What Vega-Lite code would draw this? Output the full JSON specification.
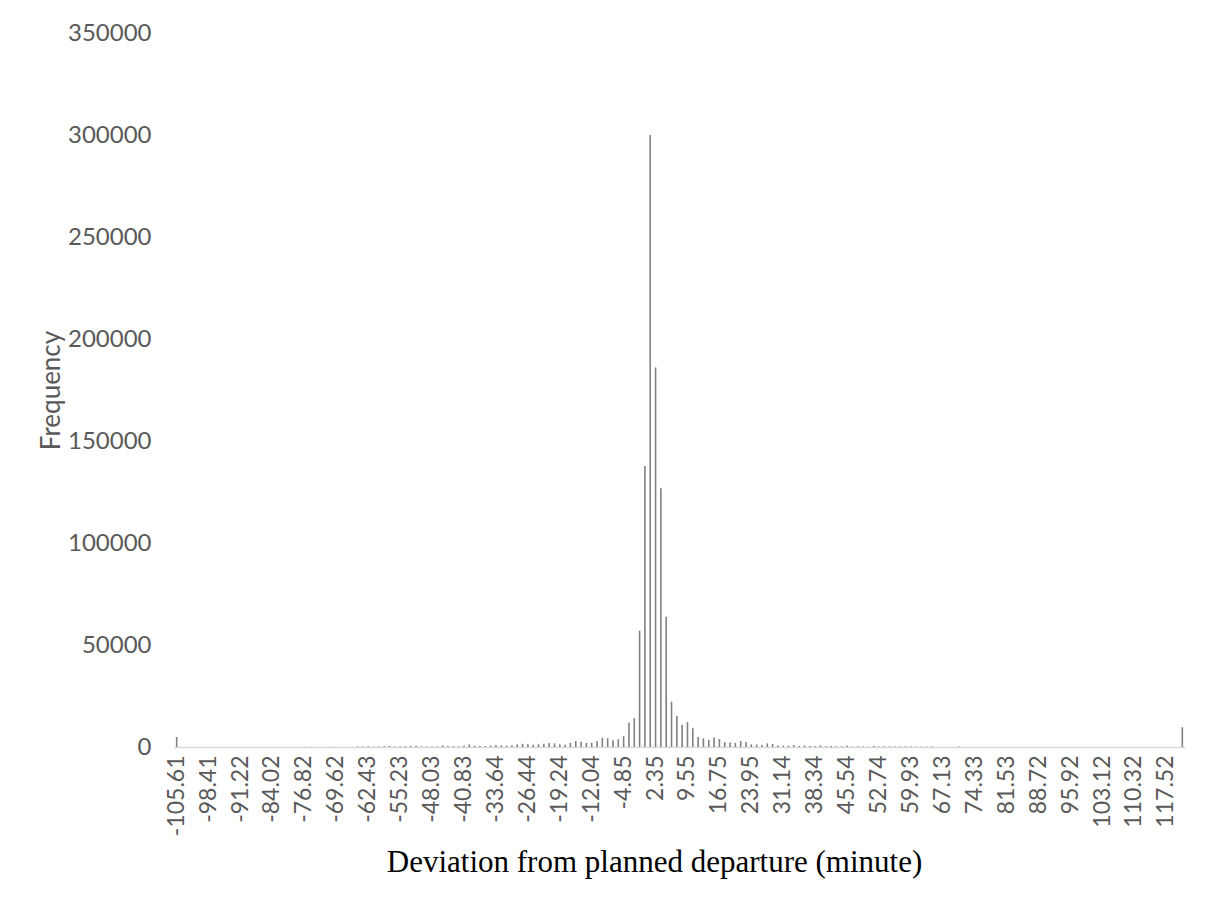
{
  "$schema": "https://vega.github.io/schema/vega-lite/v6.json",
  "width": 1011,
  "height": 714,
  "autosize": "none",
  "padding": {"left": 174, "top": 33, "right": 34, "bottom": 163},
  "background": "white",
  "config": {"view": {"stroke": null}},
  "data": {"values": [
    {"x": -105.61, "n": 4900}, {"x": -104.41, "n": 0}, {"x": -103.21, "n": 0}, {"x": -102.01, "n": 0}, {"x": -100.81, "n": 0}, {"x": -99.61, "n": 0},
    {"x": -98.41, "n": 0}, {"x": -97.21, "n": 0}, {"x": -96.01, "n": 0}, {"x": -94.81, "n": 0}, {"x": -93.61, "n": 0}, {"x": -92.41, "n": 0},
    {"x": -91.22, "n": 0}, {"x": -90.02, "n": 0}, {"x": -88.82, "n": 0}, {"x": -87.62, "n": 0}, {"x": -86.42, "n": 0}, {"x": -85.22, "n": 0},
    {"x": -84.02, "n": 0}, {"x": -82.82, "n": 0}, {"x": -81.62, "n": 0}, {"x": -80.42, "n": 0}, {"x": -79.22, "n": 0}, {"x": -78.02, "n": 0},
    {"x": -76.82, "n": 150}, {"x": -75.62, "n": 0}, {"x": -74.42, "n": 0}, {"x": -73.22, "n": 0}, {"x": -72.02, "n": 0}, {"x": -70.82, "n": 150},
    {"x": -69.62, "n": 0}, {"x": -68.42, "n": 0}, {"x": -67.22, "n": 0}, {"x": -66.02, "n": 0}, {"x": -64.82, "n": 300}, {"x": -63.62, "n": 300},
    {"x": -62.43, "n": 400}, {"x": -61.23, "n": 200}, {"x": -60.03, "n": 300}, {"x": -58.83, "n": 500}, {"x": -57.63, "n": 500}, {"x": -56.43, "n": 300},
    {"x": -55.23, "n": 400}, {"x": -54.03, "n": 400}, {"x": -52.83, "n": 500}, {"x": -51.63, "n": 600}, {"x": -50.43, "n": 300}, {"x": -49.23, "n": 300},
    {"x": -48.03, "n": 300}, {"x": -46.83, "n": 300}, {"x": -45.63, "n": 800}, {"x": -44.43, "n": 500}, {"x": -43.23, "n": 300}, {"x": -42.03, "n": 300},
    {"x": -40.83, "n": 650}, {"x": -39.63, "n": 1300}, {"x": -38.43, "n": 650}, {"x": -37.23, "n": 500}, {"x": -36.03, "n": 500}, {"x": -34.83, "n": 650},
    {"x": -33.64, "n": 1000}, {"x": -32.44, "n": 800}, {"x": -31.24, "n": 650}, {"x": -30.04, "n": 800}, {"x": -28.84, "n": 1300}, {"x": -27.64, "n": 1600},
    {"x": -26.44, "n": 1300}, {"x": -25.24, "n": 1100}, {"x": -24.04, "n": 1300}, {"x": -22.84, "n": 1600}, {"x": -21.64, "n": 2000}, {"x": -20.44, "n": 1800},
    {"x": -19.24, "n": 1300}, {"x": -18.04, "n": 1100}, {"x": -16.84, "n": 2000}, {"x": -15.64, "n": 2900}, {"x": -14.44, "n": 2600}, {"x": -13.24, "n": 2000},
    {"x": -12.04, "n": 2100}, {"x": -10.84, "n": 2800}, {"x": -9.64, "n": 4400}, {"x": -8.44, "n": 4300}, {"x": -7.24, "n": 3300}, {"x": -6.04, "n": 3800},
    {"x": -4.85, "n": 5300}, {"x": -3.65, "n": 12000}, {"x": -2.45, "n": 14100}, {"x": -1.25, "n": 57000}, {"x": -0.05, "n": 137800}, {"x": 1.15, "n": 300000},
    {"x": 2.35, "n": 186000}, {"x": 3.55, "n": 126800}, {"x": 4.75, "n": 63800}, {"x": 5.95, "n": 22200}, {"x": 7.15, "n": 15300}, {"x": 8.35, "n": 10900},
    {"x": 9.55, "n": 12300}, {"x": 10.75, "n": 9200}, {"x": 11.95, "n": 4900}, {"x": 13.15, "n": 4250}, {"x": 14.35, "n": 3500}, {"x": 15.55, "n": 4600},
    {"x": 16.75, "n": 3900}, {"x": 17.95, "n": 2400}, {"x": 19.15, "n": 2200}, {"x": 20.35, "n": 2000}, {"x": 21.55, "n": 2900}, {"x": 22.75, "n": 2400},
    {"x": 23.95, "n": 1300}, {"x": 25.15, "n": 1200}, {"x": 26.35, "n": 1000}, {"x": 27.55, "n": 1800}, {"x": 28.75, "n": 1500}, {"x": 29.95, "n": 700},
    {"x": 31.14, "n": 650}, {"x": 32.34, "n": 650}, {"x": 33.54, "n": 1000}, {"x": 34.74, "n": 500}, {"x": 35.94, "n": 800}, {"x": 37.14, "n": 500},
    {"x": 38.34, "n": 350}, {"x": 39.54, "n": 800}, {"x": 40.74, "n": 350}, {"x": 41.94, "n": 500}, {"x": 43.14, "n": 350}, {"x": 44.34, "n": 350},
    {"x": 45.54, "n": 600}, {"x": 46.74, "n": 200}, {"x": 47.94, "n": 350}, {"x": 49.14, "n": 200}, {"x": 50.34, "n": 200}, {"x": 51.54, "n": 500},
    {"x": 52.74, "n": 200}, {"x": 53.94, "n": 350}, {"x": 55.14, "n": 300}, {"x": 56.34, "n": 250}, {"x": 57.54, "n": 250}, {"x": 58.74, "n": 300},
    {"x": 59.93, "n": 250}, {"x": 61.13, "n": 200}, {"x": 62.33, "n": 200}, {"x": 63.53, "n": 200}, {"x": 64.73, "n": 300}, {"x": 65.93, "n": 0},
    {"x": 67.13, "n": 0}, {"x": 68.33, "n": 0}, {"x": 69.53, "n": 0}, {"x": 70.73, "n": 200}, {"x": 71.93, "n": 0}, {"x": 73.13, "n": 0},
    {"x": 74.33, "n": 0}, {"x": 75.53, "n": 0}, {"x": 76.73, "n": 0}, {"x": 77.93, "n": 0}, {"x": 79.13, "n": 0}, {"x": 80.33, "n": 0},
    {"x": 81.53, "n": 0}, {"x": 82.73, "n": 0}, {"x": 83.93, "n": 0}, {"x": 85.13, "n": 0}, {"x": 86.33, "n": 0}, {"x": 87.53, "n": 0},
    {"x": 88.72, "n": 0}, {"x": 89.92, "n": 0}, {"x": 91.12, "n": 0}, {"x": 92.32, "n": 0}, {"x": 93.52, "n": 0}, {"x": 94.72, "n": 0},
    {"x": 95.92, "n": 0}, {"x": 97.12, "n": 0}, {"x": 98.32, "n": 0}, {"x": 99.52, "n": 0}, {"x": 100.72, "n": 0}, {"x": 101.92, "n": 0},
    {"x": 103.12, "n": 0}, {"x": 104.32, "n": 0}, {"x": 105.52, "n": 0}, {"x": 106.72, "n": 0}, {"x": 107.92, "n": 0}, {"x": 109.12, "n": 0},
    {"x": 110.32, "n": 0}, {"x": 111.52, "n": 0}, {"x": 112.72, "n": 0}, {"x": 113.92, "n": 0}, {"x": 115.12, "n": 0}, {"x": 116.32, "n": 0},
    {"x": 117.52, "n": 0}, {"x": 118.72, "n": 0}, {"x": 119.92, "n": 0}, {"x": 121.12, "n": 9700}
  ]},
  "mark": {"type": "bar", "width": 1.6, "color": "#808080"},
  "encoding": {
    "x": {
      "field": "x",
      "type": "ordinal",
      "sort": "ascending",
      "scale": {"paddingInner": 0, "paddingOuter": 0},
      "axis": {
        "title": "Deviation from planned departure (minute)",
        "values": [-105.61, -98.41, -91.22, -84.02, -76.82, -69.62, -62.43, -55.23, -48.03, -40.83, -33.64, -26.44, -19.24, -12.04, -4.85, 2.35, 9.55, 16.75, 23.95, 31.14, 38.34, 45.54, 52.74, 59.93, 67.13, 74.33, 81.53, 88.72, 95.92, 103.12, 110.32, 117.52],
        "labelAngle": -90,
        "labelAlign": "right",
        "labelBaseline": "middle",
        "labelPadding": 8,
        "labelFont": "Lato",
        "labelFontSize": 23,
        "labelColor": "#595959",
        "labelOverlap": false,
        "ticks": false,
        "domainColor": "#d9d9d9",
        "domainWidth": 1.5,
        "grid": false,
        "titleFont": "Liberation Serif",
        "titleFontSize": 31,
        "titleFontWeight": "normal",
        "titleColor": "#000000",
        "titlePadding": 12,
        "titleX": 480
      }
    },
    "y": {
      "field": "n",
      "type": "quantitative",
      "scale": {"domain": [0, 350000]},
      "axis": {
        "title": "Frequency",
        "values": [0, 50000, 100000, 150000, 200000, 250000, 300000, 350000],
        "format": "d",
        "domain": false,
        "ticks": false,
        "grid": false,
        "labelPadding": 23,
        "labelFont": "Lato",
        "labelFontSize": 24,
        "labelColor": "#595959",
        "titleFont": "Lato",
        "titleFontSize": 26,
        "titleFontWeight": "normal",
        "titleColor": "#595959",
        "titlePadding": 3
      }
    }
  }
}
